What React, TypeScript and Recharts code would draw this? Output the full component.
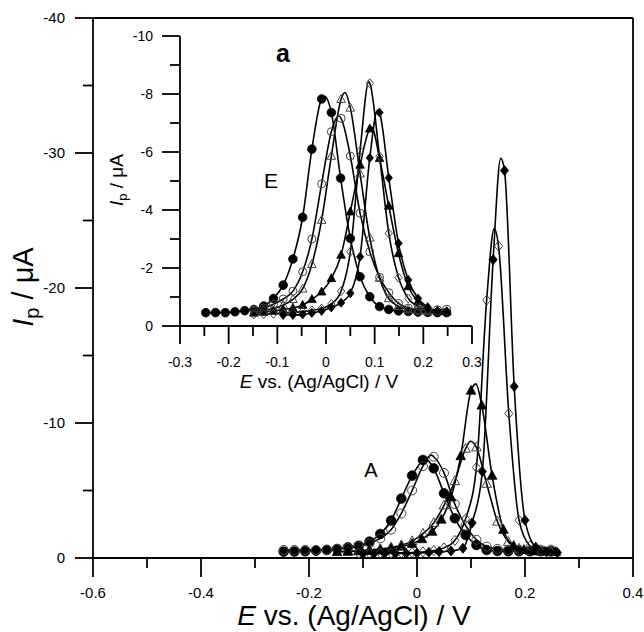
import React from 'react'
import { ComposedChart, Line, Scatter, XAxis, YAxis, ReferenceLine } from 'recharts'

type Pt = [number, number]

const FONT = '"Liberation Sans", Arial, sans-serif'

// ---- main panel (curve set A) ----
const mainFilledCircle: Pt[] = [
  [-0.247, -0.47], [-0.227, -0.48], [-0.207, -0.5], [-0.187, -0.54], [-0.167, -0.59], [-0.148, -0.67],
  [-0.128, -0.79], [-0.108, -0.91], [-0.088, -1.21], [-0.068, -1.78], [-0.048, -2.78], [-0.029, -4.4],
  [-0.009, -6.1], [0.011, -7.26], [0.031, -6.64], [0.05, -4.79], [0.07, -2.94], [0.09, -1.7],
  [0.11, -0.96], [0.129, -0.59], [0.149, -0.52], [0.169, -0.5], [0.189, -0.5], [0.209, -0.5],
  [0.229, -0.5], [0.248, -0.5],
]
const mainFilledCirclePeak: Pt = [0.014, -7.38]

const mainOpenCircle: Pt[] = [
  [-0.247, -0.6], [-0.227, -0.6], [-0.207, -0.6], [-0.187, -0.6], [-0.167, -0.62], [-0.148, -0.66],
  [-0.128, -0.74], [-0.108, -0.86], [-0.088, -1.08], [-0.068, -1.45], [-0.048, -2.1], [-0.029, -3.3],
  [-0.009, -5.0], [0.011, -6.8], [0.031, -7.5], [0.05, -6.3], [0.07, -4.0], [0.09, -2.4],
  [0.11, -1.35], [0.129, -0.85], [0.149, -0.68], [0.169, -0.6], [0.189, -0.6], [0.209, -0.6],
  [0.229, -0.62], [0.248, -0.62],
]
const mainOpenCirclePeak: Pt = [0.026, -7.62]

const mainOpenTriangle: Pt[] = [
  [-0.128, -0.5], [-0.108, -0.53], [-0.088, -0.58], [-0.068, -0.66], [-0.048, -0.78], [-0.029, -0.95],
  [-0.009, -1.25], [0.011, -1.8], [0.031, -2.6], [0.05, -3.9], [0.07, -5.7], [0.09, -8.1],
  [0.11, -8.2], [0.129, -5.5], [0.149, -2.7], [0.169, -1.2], [0.189, -0.7], [0.209, -0.55],
  [0.229, -0.5], [0.248, -0.5],
]
const mainOpenTrianglePeak: Pt = [0.099, -8.65]

const mainFilledTriangle: Pt[] = [
  [-0.148, -0.45], [-0.128, -0.47], [-0.108, -0.5], [-0.088, -0.54], [-0.068, -0.6], [-0.048, -0.7],
  [-0.029, -0.85], [-0.009, -1.05], [0.009, -1.4], [0.028, -1.95], [0.045, -2.85], [0.063, -4.5],
  [0.081, -7.55], [0.1, -12.4], [0.12, -11.3], [0.139, -6.1], [0.16, -2.1], [0.179, -0.9],
  [0.198, -0.6], [0.218, -0.5], [0.237, -0.47], [0.257, -0.45],
]
const mainFilledTrianglePeak: Pt = [0.109, -12.9]

const mainOpenDiamond: Pt[] = [
  [-0.108, -0.35], [-0.088, -0.35], [-0.068, -0.36], [-0.048, -0.37], [-0.029, -0.38], [-0.009, -0.4],
  [0.011, -0.45], [0.031, -0.55], [0.05, -0.75], [0.07, -1.3], [0.09, -2.9], [0.11, -6.7],
  [0.129, -19.1], [0.151, -23.1], [0.17, -10.7], [0.189, -2.8], [0.209, -0.9], [0.229, -0.5],
  [0.248, -0.4],
]
const mainOpenDiamondPeak: Pt = [0.143, -24.4]

const mainFilledDiamond: Pt[] = [
  [-0.1, -0.32], [-0.08, -0.32], [-0.06, -0.33], [-0.04, -0.33], [-0.02, -0.34], [0.0, -0.36],
  [0.022, -0.42], [0.041, -0.47], [0.063, -0.52], [0.085, -0.72], [0.102, -2.6], [0.121, -6.4],
  [0.141, -22.1], [0.162, -28.7], [0.18, -12.7], [0.2, -2.8], [0.22, -0.8], [0.24, -0.45],
  [0.26, -0.4],
]
const mainFilledDiamondPeak: Pt = [0.155, -29.6]

// ---- inset (curve set E) ----
const insetFilledCircle: Pt[] = [
  [-0.247, -0.46], [-0.227, -0.46], [-0.207, -0.46], [-0.187, -0.49], [-0.167, -0.53], [-0.148, -0.57],
  [-0.128, -0.69], [-0.108, -0.95], [-0.088, -1.41], [-0.068, -2.31], [-0.048, -3.75], [-0.029, -6.1],
  [-0.009, -7.83], [0.011, -7.36], [0.03, -5.1], [0.05, -3.02], [0.07, -1.7], [0.09, -1.01],
  [0.11, -0.67], [0.129, -0.57], [0.149, -0.52], [0.169, -0.5], [0.189, -0.48], [0.209, -0.47],
  [0.229, -0.46], [0.248, -0.46],
]
const insetFilledCirclePeak: Pt = [-0.003, -7.92]

const insetOpenCircle: Pt[] = [
  [-0.148, -0.55], [-0.128, -0.62], [-0.108, -0.75], [-0.088, -0.93], [-0.068, -1.2], [-0.048, -1.87],
  [-0.029, -3.0], [-0.009, -4.9], [0.011, -6.7], [0.031, -7.16], [0.05, -5.86], [0.07, -3.89],
  [0.09, -2.56], [0.11, -1.68], [0.129, -1.15], [0.149, -0.78], [0.169, -0.62], [0.189, -0.56],
  [0.209, -0.54], [0.229, -0.56], [0.248, -0.58],
]
const insetOpenCirclePeak: Pt = [0.026, -7.24]

const insetOpenTriangle: Pt[] = [
  [-0.148, -0.5], [-0.128, -0.54], [-0.108, -0.6], [-0.088, -0.72], [-0.068, -0.92], [-0.048, -1.28],
  [-0.029, -2.13], [-0.009, -3.65], [0.011, -5.86], [0.031, -7.82], [0.05, -7.52], [0.07, -5.25],
  [0.09, -3.04], [0.11, -1.65], [0.129, -0.95], [0.149, -0.68], [0.169, -0.57], [0.189, -0.52],
  [0.209, -0.5], [0.229, -0.5], [0.248, -0.5],
]
const insetOpenTrianglePeak: Pt = [0.039, -8.05]

const insetFilledTriangle: Pt[] = [
  [-0.148, -0.45], [-0.128, -0.48], [-0.108, -0.52], [-0.088, -0.57], [-0.068, -0.62], [-0.048, -0.72],
  [-0.029, -0.92], [-0.009, -1.18], [0.011, -1.64], [0.031, -2.45], [0.05, -3.94], [0.07, -5.55],
  [0.09, -6.8], [0.11, -5.78], [0.129, -4.14], [0.149, -2.5], [0.169, -1.36], [0.189, -0.84],
  [0.209, -0.6], [0.229, -0.52], [0.248, -0.5],
]
const insetFilledTrianglePeak: Pt = [0.094, -6.85]

const insetOpenDiamond: Pt[] = [
  [-0.148, -0.4], [-0.128, -0.41], [-0.108, -0.42], [-0.088, -0.44], [-0.068, -0.46], [-0.048, -0.5],
  [-0.029, -0.54], [-0.009, -0.6], [0.011, -0.76], [0.031, -1.2], [0.05, -2.56], [0.07, -6.04],
  [0.09, -8.37], [0.11, -5.85], [0.129, -3.2], [0.149, -1.67], [0.169, -0.95], [0.189, -0.68],
  [0.209, -0.56], [0.229, -0.5], [0.248, -0.48],
]
const insetOpenDiamondPeak: Pt = [0.088, -8.42]

const insetFilledDiamond: Pt[] = [
  [-0.088, -0.38], [-0.068, -0.38], [-0.048, -0.4], [-0.029, -0.45], [-0.009, -0.52], [0.011, -0.64],
  [0.031, -0.8], [0.05, -1.13], [0.07, -2.39], [0.09, -5.8], [0.11, -7.36], [0.129, -5.11],
  [0.149, -2.85], [0.169, -1.59], [0.189, -0.95], [0.209, -0.65], [0.229, -0.52], [0.248, -0.48],
]
const insetFilledDiamondPeak: Pt = [0.106, -7.45]

const mainXTicks = [-0.6, -0.5, -0.4, -0.3, -0.2, -0.1, 0, 0.1, 0.2, 0.3, 0.4]
const mainYTicks = [-40, -35, -30, -25, -20, -15, -10, -5, 0]
const insetXTicks = [-0.3, -0.25, -0.2, -0.15, -0.1, -0.05, 0, 0.05, 0.1, 0.15, 0.2, 0.25, 0.3]
const insetYTicks = [-10, -9, -8, -7, -6, -5, -4, -3, -2, -1, 0]

type Kind = 'fc' | 'oc' | 'ot' | 'ft' | 'od' | 'fd'

interface Series {
  name: string
  kind: Kind
  marks: Pt[]
  peak: Pt
}

const mainSeries: Series[] = [
  { name: 'mFC', kind: 'fc', marks: mainFilledCircle, peak: mainFilledCirclePeak },
  { name: 'mOC', kind: 'oc', marks: mainOpenCircle, peak: mainOpenCirclePeak },
  { name: 'mOT', kind: 'ot', marks: mainOpenTriangle, peak: mainOpenTrianglePeak },
  { name: 'mFT', kind: 'ft', marks: mainFilledTriangle, peak: mainFilledTrianglePeak },
  { name: 'mOD', kind: 'od', marks: mainOpenDiamond, peak: mainOpenDiamondPeak },
  { name: 'mFD', kind: 'fd', marks: mainFilledDiamond, peak: mainFilledDiamondPeak },
]

const insetSeries: Series[] = [
  { name: 'iFC', kind: 'fc', marks: insetFilledCircle, peak: insetFilledCirclePeak },
  { name: 'iOC', kind: 'oc', marks: insetOpenCircle, peak: insetOpenCirclePeak },
  { name: 'iOT', kind: 'ot', marks: insetOpenTriangle, peak: insetOpenTrianglePeak },
  { name: 'iFT', kind: 'ft', marks: insetFilledTriangle, peak: insetFilledTrianglePeak },
  { name: 'iOD', kind: 'od', marks: insetOpenDiamond, peak: insetOpenDiamondPeak },
  { name: 'iFD', kind: 'fd', marks: insetFilledDiamond, peak: insetFilledDiamondPeak },
]

const toRows = (pts: Pt[]) => pts.map(([e, i]) => ({ e, i }))
const curveRows = (s: Series) => toRows([...s.marks, s.peak].sort((a, b) => a[0] - b[0]))

function Marker({ cx, cy, kind, size }: { cx: number; cy: number; kind: Kind; size: number }) {
  if (cx == null || cy == null || isNaN(cx) || isNaN(cy)) return <g />
  const filled = kind === 'fc' || kind === 'ft' || kind === 'fd'
  const fill = filled ? '#000' : 'none'
  const stroke = filled ? '#000' : '#444'
  const sw = filled ? 0.8 : 1
  const s = size
  if (kind === 'fc' || kind === 'oc') {
    return <circle cx={cx} cy={cy} r={filled ? s : s - 0.3} fill={fill} stroke={stroke} strokeWidth={sw} />
  }
  if (kind === 'ot' || kind === 'ft') {
    const pts = `${cx},${cy - s * 1.1} ${cx + s},${cy + s * 0.75} ${cx - s},${cy + s * 0.75}`
    return <polygon points={pts} fill={fill} stroke={stroke} strokeWidth={sw} />
  }
  const pts = `${cx},${cy - s * 1.05} ${cx + s * 0.85},${cy} ${cx},${cy + s * 1.05} ${cx - s * 0.85},${cy}`
  return <polygon points={pts} fill={fill} stroke={stroke} strokeWidth={sw} />
}

const fmt1 = (v: number) => {
  const r = Math.round(v * 10) / 10
  return r === 0 ? '0' : r.toFixed(1)
}

function MainXTick(props: any) {
  const { x, y, payload } = props
  const v = payload.value as number
  const major = Math.abs(Math.round(v * 10)) % 2 === 0
  return (
    <g>
      <line x1={x} x2={x} y1={y} y2={y + (major ? 19 : 10)} stroke="#000" strokeWidth={1.8} />
      {major && (
        <text x={x} y={y + 40} textAnchor="middle" fontSize={15} fontFamily={FONT} fill="#000">
          {fmt1(v)}
        </text>
      )}
    </g>
  )
}

function MainYTick(props: any) {
  const { x, y, payload } = props
  const v = payload.value as number
  const major = v % 10 === 0
  return (
    <g>
      <line x1={x} x2={x - (major ? 18 : 10)} y1={y} y2={y} stroke="#000" strokeWidth={1.8} />
      {major && (
        <text x={x - 28} y={y + 5} textAnchor="end" fontSize={15} fontFamily={FONT} fill="#000">
          {String(v)}
        </text>
      )}
    </g>
  )
}

function InsetXTick(props: any) {
  const { x, y, payload } = props
  const v = payload.value as number
  const major = Math.abs(Math.round(v * 20)) % 2 === 0
  return (
    <g>
      <line x1={x} x2={x} y1={y} y2={y + (major ? 18 : 10)} stroke="#000" strokeWidth={1.8} />
      {major && (
        <text x={x} y={y + 41} textAnchor="middle" fontSize={14} fontFamily={FONT} fill="#000">
          {fmt1(v)}
        </text>
      )}
    </g>
  )
}

function InsetYTick(props: any) {
  const { x, y, payload } = props
  const v = payload.value as number
  const major = v % 2 === 0
  return (
    <g>
      <line x1={x} x2={x - (major ? 18 : 10)} y1={y} y2={y} stroke="#000" strokeWidth={1.8} />
      {major && (
        <text x={x - 27} y={y + 5} textAnchor="end" fontSize={14} fontFamily={FONT} fill="#000">
          {String(v)}
        </text>
      )}
    </g>
  )
}

const axisLine = { stroke: '#000', strokeWidth: 1.8 }

function renderSeries(list: Series[], size: number) {
  return [
    ...list.map((s) => (
      <Line
        key={s.name + '-fit'}
        data={curveRows(s)}
        dataKey="i"
        type="monotone"
        stroke="#000"
        strokeWidth={1.6}
        dot={false}
        activeDot={false}
        isAnimationActive={false}
      />
    )),
    ...list.map((s) => (
      <Scatter
        key={s.name + '-pts'}
        data={toRows(s.marks)}
        dataKey="i"
        isAnimationActive={false}
        shape={(p: any) => <Marker cx={p.cx} cy={p.cy} kind={s.kind} size={size} />}
      />
    )),
  ]
}

export default function App() {
  return (
    <div style={{ position: 'absolute', left: 0, top: 0, width: 644, height: 632, background: '#fff' }}>
      <div style={{ position: 'absolute', left: 0, top: 0 }}>
        <ComposedChart width={644} height={632} margin={{ top: 18, right: 11, bottom: 44, left: 33 }}>
          <XAxis
            type="number"
            dataKey="e"
            domain={[-0.6, 0.4]}
            ticks={mainXTicks}
            interval={0}
            allowDataOverflow
            height={30}
            tickSize={0}
            tickMargin={0}
            tickLine={false}
            axisLine={axisLine}
            tick={(p: any) => <MainXTick {...p} />}
          />
          <YAxis
            type="number"
            domain={[-40, 0]}
            reversed
            ticks={mainYTicks}
            interval={0}
            allowDataOverflow
            width={60}
            tickSize={0}
            tickMargin={0}
            tickLine={false}
            axisLine={axisLine}
            tick={(p: any) => <MainYTick {...p} />}
          />
          <ReferenceLine x={0.4} stroke="#000" strokeWidth={1.8} />
          <ReferenceLine y={-40} stroke="#000" strokeWidth={1.8} />
          {renderSeries(mainSeries, 4.8)}
        </ComposedChart>
      </div>

      <div style={{ position: 'absolute', left: 100, top: 20 }}>
        <ComposedChart width={400} height={380} margin={{ top: 16, right: 28, bottom: 44, left: 30 }}>
          <XAxis
            type="number"
            dataKey="e"
            domain={[-0.3, 0.3]}
            ticks={insetXTicks}
            interval={0}
            allowDataOverflow
            height={30}
            tickSize={0}
            tickMargin={0}
            tickLine={false}
            axisLine={axisLine}
            tick={(p: any) => <InsetXTick {...p} />}
          />
          <YAxis
            type="number"
            domain={[-10, 0]}
            reversed
            ticks={insetYTicks}
            interval={0}
            allowDataOverflow
            width={50}
            tickSize={0}
            tickMargin={0}
            tickLine={false}
            axisLine={axisLine}
            tick={(p: any) => <InsetYTick {...p} />}
          />
          {renderSeries(insetSeries, 4.3)}
        </ComposedChart>
      </div>

      <svg
        width={644}
        height={632}
        style={{ position: 'absolute', left: 0, top: 0, pointerEvents: 'none' }}
        fontFamily={FONT}
      >
        {/* main axis titles */}
        <text x={354} y={625} textAnchor="middle" fontSize={28} fill="#000">
          <tspan fontStyle="italic">E</tspan>
          {' vs. (Ag/AgCl) / V'}
        </text>
        <text transform="translate(33,287) rotate(-90)" textAnchor="middle" fontSize={29} fill="#000">
          <tspan fontStyle="italic">I</tspan>
          <tspan fontSize={20} dy={6}>p</tspan>
          <tspan dy={-6}>{' / μA'}</tspan>
        </text>
        {/* inset axis titles */}
        <text x={319} y={388} textAnchor="middle" fontSize={19} fill="#000">
          <tspan fontStyle="italic">E</tspan>
          {' vs. (Ag/AgCl) / V'}
        </text>
        <text transform="translate(123,180) rotate(-90)" textAnchor="middle" fontSize={19} fill="#000">
          <tspan fontStyle="italic">I</tspan>
          <tspan fontSize={13} dy={4}>p</tspan>
          <tspan dy={-4}>{' / μA'}</tspan>
        </text>
        <text x={283} y={62} textAnchor="middle" fontSize={25} fontWeight="bold" fill="#000">a</text>
        <text x={271} y={188} textAnchor="middle" fontSize={21} fill="#000">E</text>
        <text x={371} y={477} textAnchor="middle" fontSize={20} fill="#000">A</text>
      </svg>
    </div>
  )
}
